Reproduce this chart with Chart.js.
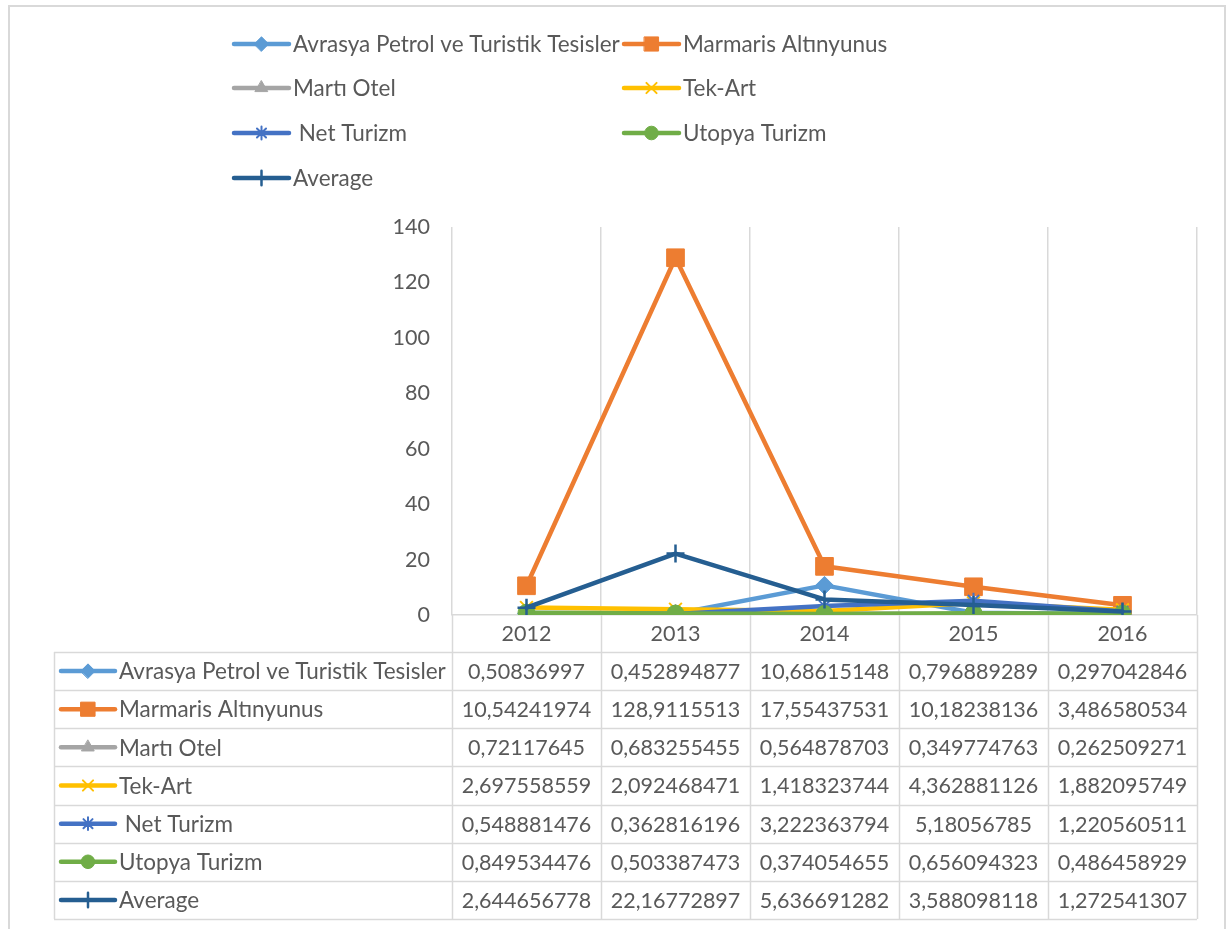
<!DOCTYPE html>
<html>
<head>
<meta charset="utf-8">
<script src="https://cdn.jsdelivr.net/npm/chart.js@4.4.0/dist/chart.umd.min.js"></script>
<style>
  html, body { margin: 0; padding: 0; background: #ffffff; }
  #wrap { position: relative; width: 1232px; height: 929px; }
  canvas { display: block; }
</style>
</head>
<body>
<div id="wrap"><canvas id="c" width="1232" height="929"></canvas></div>
<script>
// ---- Data ----
const categories = ['2012', '2013', '2014', '2015', '2016'];
const seriesNames = ['Avrasya Petrol ve Turistik Tesisler', 'Marmaris Altınyunus', 'Martı Otel', 'Tek-Art', ' Net Turizm', 'Utopya Turizm', 'Average'];
const avrasya   = [0.50836997, 0.452894877, 10.68615148, 0.796889289, 0.297042846];
const marmaris  = [10.54241974, 128.9115513, 17.55437531, 10.18238136, 3.486580534];
const marti     = [0.72117645, 0.683255455, 0.564878703, 0.349774763, 0.262509271];
const tekArt    = [2.697558559, 2.092468471, 1.418323744, 4.362881126, 1.882095749];
const netTurizm = [0.548881476, 0.362816196, 3.222363794, 5.18056785, 1.220560511];
const utopya    = [0.849534476, 0.503387473, 0.374054655, 0.656094323, 0.486458929];
const average   = [2.644656778, 22.16772897, 5.636691282, 3.588098118, 1.272541307];
const yTicks    = [0, 20, 40, 60, 80, 100, 120, 140];

// ---- Styles ----
const seriesValues = [avrasya, marmaris, marti, tekArt, netTurizm, utopya, average];
const colors = ['#5B9BD5', '#ED7D31', '#A5A5A5', '#FFC000', '#4472C4', '#70AD47', '#255E91'];
const pStyles = ['rectRot', 'rect', 'triangle', 'crossRot', 'star', 'circle', 'cross'];
const pRadius = [9, 12.5, 9, 9, 8, 8.5, 9];
const pBorder = [1, 1, 1, 2, 2, 1, 2.5];
const FONT = 'Lato, "Open Sans", sans-serif';
const FSIZE = 22.5;
const NSIZE = 21.5;
const TXT = '#595959';
const GRID = '#d9d9d9';

const datasets = seriesValues.map((vals, i) => ({
  label: seriesNames[i],
  data: vals,
  borderColor: colors[i],
  backgroundColor: colors[i],
  borderWidth: 4.5,
  pointStyle: pStyles[i],
  pointRadius: pRadius[i],
  pointBorderWidth: pBorder[i],
  pointBackgroundColor: colors[i],
  pointBorderColor: colors[i],
  borderJoinStyle: 'round',
  borderCapStyle: 'round',
  tension: 0,
  order: seriesValues.length - 1 - i
}));

function fmt(v) { return String(v).replace('.', ','); }

function drawIcon(ctx, i, x1, x2, y, scale) {
  ctx.save();
  ctx.strokeStyle = colors[i];
  ctx.lineWidth = 4.5;
  ctx.lineCap = 'round';
  ctx.beginPath();
  ctx.moveTo(x1, y);
  ctx.lineTo(x2, y);
  ctx.stroke();
  ctx.fillStyle = colors[i];
  ctx.strokeStyle = colors[i];
  ctx.lineWidth = pBorder[i];
  Chart.helpers.drawPoint(ctx, {
    pointStyle: pStyles[i], rotation: 0, radius: pRadius[i] * scale, borderWidth: pBorder[i]
  }, (x1 + x2) / 2, y);
  ctx.restore();
}

const extrasPlugin = {
  id: 'extras',
  beforeDraw(chart) {
    const ctx = chart.ctx;
    ctx.save();
    ctx.fillStyle = '#ffffff';
    ctx.fillRect(0, 0, chart.width, chart.height);
    ctx.strokeStyle = GRID;
    ctx.lineWidth = 2;
    ctx.strokeRect(9, 6, 1216, 940);
    ctx.restore();
  },
  afterDraw(chart) {
    const ctx = chart.ctx;
    const xs = chart.scales.x;
    const area = chart.chartArea;
    ctx.save();
    ctx.font = FSIZE + 'px ' + FONT;
    ctx.fillStyle = TXT;
    ctx.textBaseline = 'middle';

    // legend (two columns)
    const legendRows = [44, 88, 133, 178];
    const colX = [[234, 289, 293], [624, 679, 683]];
    for (let i = 0; i < seriesNames.length; i++) {
      const r = Math.floor(i / 2), c = i % 2;
      const y = legendRows[r];
      drawIcon(ctx, i, colX[c][0], colX[c][1], y, 0.8);
      ctx.fillStyle = TXT;
      ctx.textAlign = 'left';
      ctx.fillText(seriesNames[i], colX[c][2], y + 1);
    }

    // data table
    const half = (xs.getPixelForValue(1) - xs.getPixelForValue(0)) / 2;
    const tableLeft = 54;
    const tableTop = 652;
    const tableBottom = 919;
    const rowH = (tableBottom - tableTop) / seriesNames.length;
    ctx.strokeStyle = GRID;
    ctx.lineWidth = 1.5;
    for (let r = 0; r <= seriesNames.length; r++) {
      const y = Math.round(tableTop + r * rowH) + 0.5;
      ctx.beginPath();
      ctx.moveTo(tableLeft, y);
      ctx.lineTo(area.right, y);
      ctx.stroke();
    }
    ctx.beginPath();
    ctx.moveTo(tableLeft + 0.5, tableTop);
    ctx.lineTo(tableLeft + 0.5, tableBottom);
    ctx.stroke();
    for (let k = 0; k <= categories.length; k++) {
      const x = Math.round(xs.getPixelForValue(0) - half + k * 2 * half) + 0.5;
      ctx.beginPath();
      ctx.moveTo(x, area.bottom);
      ctx.lineTo(x, tableBottom);
      ctx.stroke();
    }
    for (let r = 0; r < seriesNames.length; r++) {
      const yc = tableTop + (r + 0.5) * rowH;
      drawIcon(ctx, r, 61, 115, yc, 0.8);
      ctx.fillStyle = TXT;
      ctx.textAlign = 'left';
      ctx.font = FSIZE + 'px ' + FONT;
      ctx.fillText(seriesNames[r], 119, yc + 1);
      ctx.textAlign = 'center';
      ctx.font = NSIZE + 'px ' + FONT;
      for (let k = 0; k < categories.length; k++) {
        ctx.fillText(fmt(seriesValues[r][k]), xs.getPixelForValue(k), yc + 1);
      }
    }
    ctx.restore();
  }
};

new Chart(document.getElementById('c'), {
  type: 'line',
  data: { labels: categories, datasets },
  plugins: [extrasPlugin],
  options: {
    responsive: false,
    animation: false,
    devicePixelRatio: 1,
    layout: { padding: { left: 392, right: 35, top: 227, bottom: 278 } },
    plugins: { legend: { display: false }, tooltip: { enabled: false } },
    scales: {
      x: {
        type: 'category',
        offset: true,
        grid: { display: true, offset: true, color: GRID, lineWidth: 1.5, drawTicks: false },
        border: { display: true, color: GRID, width: 1.5 },
        ticks: { color: TXT, font: { family: FONT, size: NSIZE }, padding: 6, maxRotation: 0 },
        afterFit(scale) { scale.height = 36; }
      },
      y: {
        min: 0, max: 140,
        afterBuildTicks(scale) { scale.ticks = yTicks.map(v => ({ value: v })); },
        grid: { display: false, drawTicks: false },
        border: { display: false },
        ticks: { color: TXT, font: { family: FONT, size: NSIZE }, padding: 22 },
        afterFit(scale) { scale.width = 60; }
      }
    }
  }
});
</script>
</body>
</html>
